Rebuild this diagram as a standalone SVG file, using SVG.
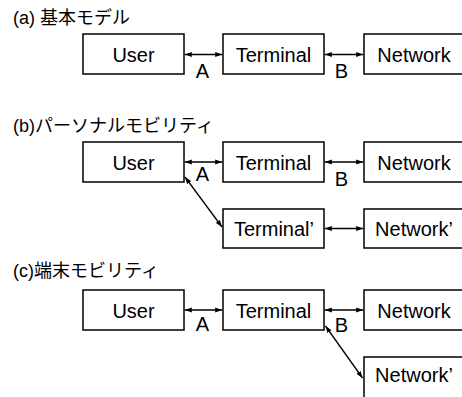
<svg xmlns="http://www.w3.org/2000/svg" width="462" height="397" viewBox="0 0 462 397">
<style>
  .box { fill: #ffffff; stroke: #000000; stroke-width: 1.5; }
  .lbl { font-family: "Liberation Sans", Arial, sans-serif; font-size: 20px; fill: #000000; text-anchor: middle; }
  .ttl { font-family: "Liberation Sans", Arial, "Noto Sans CJK JP", sans-serif; font-size: 18px; fill: #000000; }
  .conn line { stroke: #000000; stroke-width: 1.3; marker-start: url(#ah); marker-end: url(#ah); }
</style>
<defs>
  <marker id="ah" markerUnits="userSpaceOnUse" markerWidth="7" markerHeight="6" refX="7" refY="3" orient="auto-start-reverse">
    <path d="M0,0.5 L7,3 L0,5.5 z" fill="#000000"/>
  </marker>
</defs>
<rect width="462" height="397" fill="#ffffff"/>

<!-- Section (a) -->
<text class="ttl" x="13" y="24">(a) 基本モデル</text>
<g id="a-user"><rect class="box" x="83" y="34" width="101" height="40"/><text class="lbl" x="133.5" y="61.5">User</text></g>
<g id="a-terminal"><rect class="box" x="223" y="34" width="101" height="40"/><text class="lbl" x="273.5" y="61.5">Terminal</text></g>
<g id="a-network"><rect class="box" x="364" y="34" width="100" height="40"/><text class="lbl" x="414" y="61.5">Network</text></g>

<!-- Section (b) -->
<text class="ttl" x="13" y="132">(b)パーソナルモビリティ</text>
<g id="b-user"><rect class="box" x="83" y="142" width="101" height="40"/><text class="lbl" x="133.5" y="169.5">User</text></g>
<g id="b-terminal"><rect class="box" x="223" y="142" width="101" height="40"/><text class="lbl" x="273.5" y="169.5">Terminal</text></g>
<g id="b-network"><rect class="box" x="364" y="142" width="100" height="40"/><text class="lbl" x="414" y="169.5">Network</text></g>
<g id="b-terminal2"><rect class="box" x="223" y="209" width="101" height="39"/><text class="lbl" x="274" y="236">Terminal’</text></g>
<g id="b-network2"><rect class="box" x="364" y="209" width="100" height="39"/><text class="lbl" x="414" y="236">Network’</text></g>

<!-- Section (c) -->
<text class="ttl" x="13" y="277">(c)端末モビリティ</text>
<g id="c-user"><rect class="box" x="83" y="290" width="101" height="40"/><text class="lbl" x="133.5" y="317.5">User</text></g>
<g id="c-terminal"><rect class="box" x="223" y="290" width="101" height="40"/><text class="lbl" x="273.5" y="317.5">Terminal</text></g>
<g id="c-network"><rect class="box" x="364" y="290" width="100" height="40"/><text class="lbl" x="414" y="317.5">Network</text></g>
<g id="c-network2"><rect class="box" x="364" y="357" width="100" height="50"/><text class="lbl" x="414" y="381.5">Network’</text></g>

<g id="connectors" class="conn">
  <line x1="184.8" y1="54.5" x2="222.2" y2="54.5"/>
  <line x1="324.8" y1="54.5" x2="363.2" y2="54.5"/>
  <line x1="184.8" y1="162" x2="222.2" y2="162"/>
  <line x1="324.8" y1="162" x2="363.2" y2="162"/>
  <line x1="185" y1="177" x2="222" y2="227"/>
  <line x1="324.8" y1="228.5" x2="363.2" y2="228.5"/>
  <line x1="184.8" y1="310" x2="222.2" y2="310"/>
  <line x1="324.8" y1="310" x2="363.2" y2="310"/>
  <line x1="325.5" y1="326" x2="362.5" y2="378"/>
</g>

<g id="labels">
  <text class="lbl" x="202.5" y="78">A</text>
  <text class="lbl" x="341.5" y="78">B</text>
  <text class="lbl" x="202.5" y="181">A</text>
  <text class="lbl" x="341.5" y="186">B</text>
  <text class="lbl" x="202.5" y="331">A</text>
  <text class="lbl" x="341.5" y="332">B</text>
</g>
</svg>
